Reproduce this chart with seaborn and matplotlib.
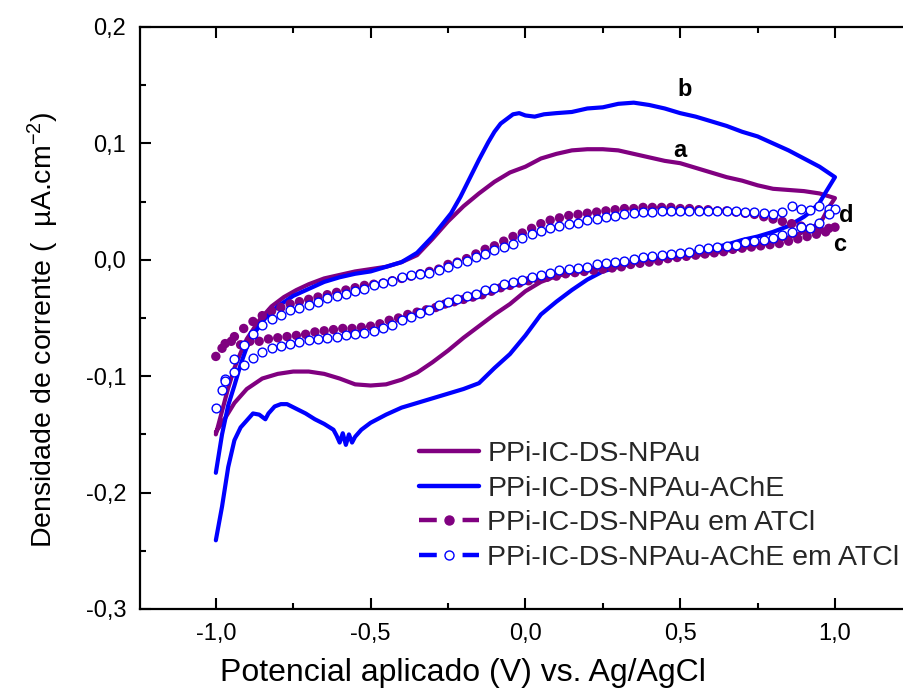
import numpy as np
import pandas as pd
import matplotlib
matplotlib.use("Agg")
import matplotlib.pyplot as plt
from matplotlib.lines import Line2D
from matplotlib.ticker import MultipleLocator, FuncFormatter
import seaborn as sns

# ---------------- data ----------------
# a: PPi-IC-DS-NPAu (solid purple) forward then reverse scan
a_x = [-1.00, -0.98, -0.96, -0.94, -0.92, -0.90, -0.86, -0.82, -0.78, -0.74, -0.70, -0.65, -0.60, -0.55,
       -0.50, -0.45, -0.40, -0.35, -0.30, -0.25, -0.20, -0.15, -0.10, -0.05, 0.00, 0.05, 0.10, 0.15,
       0.20, 0.25, 0.30, 0.35, 0.40, 0.45, 0.50, 0.55, 0.60, 0.65, 0.70, 0.75, 0.80, 0.85, 0.90, 0.95, 1.00,
       0.98, 0.96, 0.93, 0.90, 0.86, 0.82, 0.78, 0.74, 0.70, 0.65, 0.60, 0.55, 0.50, 0.45, 0.40, 0.35,
       0.30, 0.25, 0.20, 0.15, 0.10, 0.05, 0.00, -0.05, -0.10, -0.15, -0.20, -0.25, -0.30, -0.35, -0.40,
       -0.45, -0.50, -0.55, -0.60, -0.65, -0.70, -0.75, -0.80, -0.85, -0.90, -0.94, -0.97, -1.00]
a_y = [-0.150, -0.130, -0.110, -0.093, -0.080, -0.068, -0.052, -0.040, -0.032, -0.026, -0.021, -0.016,
       -0.013, -0.010, -0.008, -0.006, -0.002, 0.004, 0.018, 0.033, 0.046, 0.057, 0.067, 0.075, 0.080,
       0.087, 0.091, 0.094, 0.095, 0.095, 0.094, 0.091, 0.088, 0.085, 0.083, 0.079, 0.075, 0.071, 0.068,
       0.064, 0.061, 0.060, 0.059, 0.057, 0.053,
       0.045, 0.035, 0.028, 0.024, 0.020, 0.017, 0.014, 0.012, 0.010, 0.008, 0.006, 0.004, 0.003, 0.001,
       0.000, -0.003, -0.005, -0.007, -0.009, -0.011, -0.014, -0.019, -0.027, -0.038, -0.047, -0.057,
       -0.067, -0.078, -0.088, -0.097, -0.103, -0.107, -0.108, -0.107, -0.102, -0.098, -0.096, -0.096,
       -0.098, -0.102, -0.111, -0.123, -0.136, -0.148]

# b: PPi-IC-DS-NPAu-AChE (solid blue)
b_x = [-1.00, -0.98, -0.96, -0.94, -0.92, -0.90, -0.87, -0.84, -0.80, -0.75, -0.70, -0.65, -0.60, -0.55,
       -0.50, -0.45, -0.40, -0.35, -0.30, -0.27, -0.24, -0.21, -0.18, -0.15, -0.12, -0.10, -0.08, -0.06,
       -0.04, -0.02, 0.00, 0.03, 0.06, 0.10, 0.15, 0.20, 0.25, 0.30, 0.35, 0.40, 0.45, 0.50, 0.55, 0.60,
       0.65, 0.70, 0.75, 0.80, 0.85, 0.90, 0.95, 1.00,
       0.97, 0.95, 0.92, 0.90, 0.85, 0.80, 0.75, 0.70, 0.65, 0.60, 0.55, 0.50, 0.45, 0.40, 0.35, 0.30,
       0.25, 0.20, 0.15, 0.10, 0.05, 0.00, -0.05, -0.10, -0.15, -0.20, -0.25, -0.30, -0.35, -0.40, -0.45,
       -0.50, -0.53, -0.55, -0.56, -0.57, -0.58, -0.59, -0.60, -0.61, -0.62, -0.65, -0.68, -0.71, -0.74,
       -0.77, -0.79, -0.81, -0.83, -0.84, -0.86, -0.88, -0.90, -0.92, -0.94, -0.96, -0.98, -1.00]
b_y = [-0.183, -0.150, -0.125, -0.108, -0.090, -0.075, -0.061, -0.050, -0.040, -0.031, -0.025, -0.019,
       -0.015, -0.012, -0.010, -0.006, -0.002, 0.006, 0.020, 0.030, 0.040, 0.054, 0.070, 0.086, 0.101,
       0.110, 0.117, 0.121, 0.125, 0.126, 0.124, 0.123, 0.125, 0.126, 0.127, 0.130, 0.131, 0.134, 0.135,
       0.133, 0.130, 0.126, 0.123, 0.119, 0.115, 0.110, 0.106, 0.100, 0.094, 0.087, 0.080, 0.071,
       0.058, 0.049, 0.041, 0.037, 0.029, 0.024, 0.020, 0.017, 0.013, 0.010, 0.007, 0.005, 0.002, 0.000,
       -0.003, -0.006, -0.010, -0.017, -0.026, -0.036, -0.047, -0.065, -0.081, -0.093, -0.106, -0.111,
       -0.115, -0.119, -0.123, -0.127, -0.133, -0.140, -0.146, -0.152, -0.157, -0.150, -0.159, -0.149,
       -0.157, -0.151, -0.146, -0.141, -0.137, -0.132, -0.128, -0.124, -0.124, -0.126, -0.132, -0.137,
       -0.133, -0.132, -0.138, -0.144, -0.155, -0.178, -0.212, -0.241]

# c: PPi-IC-DS-NPAu em ATCl (filled purple circles)
c_x = [-1.00, -0.97, -0.94, -0.91, -0.88, -0.85, -0.82, -0.79, -0.76, -0.73, -0.70, -0.67, -0.64, -0.61,
       -0.58, -0.55, -0.52, -0.49, -0.46, -0.43, -0.40, -0.37, -0.34, -0.31, -0.28, -0.25, -0.22, -0.19,
       -0.16, -0.13, -0.10, -0.07, -0.04, -0.01, 0.02, 0.05, 0.08, 0.11, 0.14, 0.17, 0.20, 0.23, 0.26,
       0.29, 0.32, 0.35, 0.38, 0.41, 0.44, 0.47, 0.50, 0.53, 0.56, 0.59, 0.62, 0.65, 0.68, 0.71, 0.74,
       0.77, 0.80, 0.83, 0.86, 0.89, 0.92, 0.95, 0.98, 1.00,
       0.97, 0.94, 0.91, 0.88, 0.85, 0.82, 0.79, 0.76, 0.73, 0.70, 0.67, 0.64, 0.61, 0.58, 0.55, 0.52,
       0.49, 0.46, 0.43, 0.40, 0.37, 0.34, 0.31, 0.28, 0.25, 0.22, 0.19, 0.16, 0.13, 0.10, 0.07, 0.04,
       0.01, -0.02, -0.05, -0.08, -0.11, -0.14, -0.17, -0.20, -0.23, -0.26, -0.29, -0.32, -0.35, -0.38,
       -0.41, -0.44, -0.47, -0.50, -0.53, -0.56, -0.59, -0.62, -0.65, -0.68, -0.71, -0.74, -0.77, -0.80,
       -0.83, -0.86, -0.89, -0.92, -0.95, -0.98]
c_y = [-0.083, -0.072, -0.066, -0.059, -0.053, -0.048, -0.044, -0.041, -0.038, -0.036, -0.034, -0.032,
       -0.030, -0.028, -0.026, -0.024, -0.022, -0.021, -0.020, -0.018, -0.016, -0.014, -0.012, -0.010,
       -0.008, -0.004, -0.002, 0.001, 0.005, 0.009, 0.012, 0.016, 0.020, 0.023, 0.027, 0.031, 0.034,
       0.036, 0.038, 0.039, 0.040, 0.041, 0.042, 0.043, 0.044, 0.044, 0.045, 0.045, 0.045, 0.045, 0.044,
       0.044, 0.043, 0.043, 0.042, 0.042, 0.041, 0.040, 0.039, 0.037, 0.035, 0.033, 0.031, 0.029, 0.027,
       0.026, 0.027, 0.028,
       0.024, 0.022, 0.020, 0.018, 0.016, 0.014, 0.013, 0.012, 0.011, 0.010, 0.009, 0.007, 0.006, 0.005,
       0.004, 0.003, 0.002, 0.001, -0.001, -0.002, -0.003, -0.004, -0.006, -0.007, -0.008, -0.009,
       -0.010, -0.011, -0.012, -0.014, -0.015, -0.017, -0.018, -0.020, -0.022, -0.024, -0.027, -0.030,
       -0.032, -0.034, -0.036, -0.038, -0.041, -0.043, -0.045, -0.047, -0.050, -0.052, -0.055, -0.057,
       -0.058, -0.059, -0.059, -0.060, -0.061, -0.062, -0.064, -0.065, -0.066, -0.067, -0.068, -0.070,
       -0.070, -0.073, -0.070, -0.076]

# d: PPi-IC-DS-NPAu-AChE em ATCl (open blue circles)
d_x = [-1.00, -0.98, -0.97, -0.94, -0.91, -0.88, -0.85, -0.82, -0.79, -0.76, -0.73, -0.70, -0.67, -0.64,
       -0.61, -0.58, -0.55, -0.52, -0.49, -0.46, -0.43, -0.40, -0.37, -0.34, -0.31, -0.28, -0.25, -0.22,
       -0.19, -0.16, -0.13, -0.10, -0.07, -0.04, -0.01, 0.02, 0.05, 0.08, 0.11, 0.14, 0.17, 0.20, 0.23,
       0.26, 0.29, 0.32, 0.35, 0.38, 0.41, 0.44, 0.47, 0.50, 0.53, 0.56, 0.59, 0.62, 0.65, 0.68, 0.71,
       0.74, 0.77, 0.80, 0.83, 0.86, 0.89, 0.92, 0.95, 0.98, 1.00,
       0.98, 0.95, 0.92, 0.89, 0.86, 0.83, 0.80, 0.77, 0.74, 0.71, 0.68, 0.65, 0.62, 0.59, 0.56, 0.53,
       0.50, 0.47, 0.44, 0.41, 0.38, 0.35, 0.32, 0.29, 0.26, 0.23, 0.20, 0.17, 0.14, 0.11, 0.08, 0.05,
       0.02, -0.01, -0.04, -0.07, -0.10, -0.13, -0.16, -0.19, -0.22, -0.25, -0.28, -0.31, -0.34, -0.37,
       -0.40, -0.43, -0.46, -0.49, -0.52, -0.55, -0.58, -0.61, -0.64, -0.67, -0.70, -0.73, -0.76, -0.79,
       -0.82, -0.85, -0.88, -0.91, -0.94, -0.97]
d_y = [-0.127, -0.112, -0.102, -0.085, -0.073, -0.064, -0.056, -0.051, -0.047, -0.043, -0.041, -0.039,
       -0.036, -0.033, -0.031, -0.029, -0.027, -0.025, -0.022, -0.020, -0.018, -0.015, -0.013, -0.012,
       -0.011, -0.009, -0.006, -0.003, -0.001, 0.002, 0.005, 0.008, 0.011, 0.014, 0.019, 0.022, 0.025,
       0.027, 0.029, 0.031, 0.032, 0.034, 0.035, 0.037, 0.038, 0.039, 0.040, 0.041, 0.041, 0.042, 0.042,
       0.042, 0.042, 0.042, 0.042, 0.042, 0.042, 0.042, 0.041, 0.041, 0.040, 0.039, 0.041, 0.046, 0.044,
       0.043, 0.046, 0.044, 0.044,
       0.039, 0.032, 0.027, 0.028, 0.024, 0.021, 0.019, 0.017, 0.016, 0.015, 0.013, 0.012, 0.011, 0.010,
       0.009, 0.007, 0.006, 0.005, 0.004, 0.003, 0.002, 0.001, -0.001, -0.002, -0.003, -0.004, -0.006,
       -0.007, -0.008, -0.009, -0.011, -0.013, -0.015, -0.017, -0.019, -0.021, -0.024, -0.026, -0.029,
       -0.031, -0.034, -0.036, -0.039, -0.043, -0.046, -0.049, -0.052, -0.056, -0.059, -0.061, -0.063,
       -0.064, -0.065, -0.066, -0.067, -0.068, -0.069, -0.071, -0.072, -0.074, -0.076, -0.079, -0.084,
       -0.090, -0.096, -0.104]

labels = ["PPi-IC-DS-NPAu", "PPi-IC-DS-NPAu-AChE",
          "PPi-IC-DS-NPAu em ATCl", "PPi-IC-DS-NPAu-AChE em ATCl"]
curve_letters = ["a", "b", "c", "d"]
letter_pos = [(0.50, 0.094), (0.515, 0.146), (1.016, 0.013), (1.035, 0.038)]
x_ticks = [-1.0, -0.5, 0.0, 0.5, 1.0]
y_ticks = [-0.3, -0.2, -0.1, 0.0, 0.1, 0.2]

PURPLE = "#800080"
BLUE = "#0000FF"

# ---------------- style ----------------
sns.set_theme(style="ticks")
plt.rcParams["font.family"] = ["Liberation Sans", "DejaVu Sans"]
plt.rcParams["mathtext.fontset"] = "custom"
plt.rcParams["mathtext.rm"] = "Liberation Sans"
plt.rcParams["mathtext.it"] = "Liberation Sans:italic"
plt.rcParams["mathtext.bf"] = "Liberation Sans:bold"

fig = plt.figure(figsize=(9.04, 6.95), dpi=100)
ax = fig.add_axes([140 / 904, 86 / 695, 764 / 904, 582 / 695])

df_a = pd.DataFrame({"x": a_x, "y": a_y})
df_b = pd.DataFrame({"x": b_x, "y": b_y})
df_c = pd.DataFrame({"x": c_x, "y": c_y})
df_d = pd.DataFrame({"x": d_x, "y": d_y})

sns.lineplot(data=df_a, x="x", y="y", sort=False, estimator=None, color=PURPLE, lw=3.0, ax=ax)
sns.lineplot(data=df_b, x="x", y="y", sort=False, estimator=None, color=BLUE, lw=3.0, ax=ax)
sns.scatterplot(data=df_c, x="x", y="y", color=PURPLE, s=46, edgecolor="none", ax=ax, zorder=3)
sns.scatterplot(data=df_d, x="x", y="y", facecolor="white", edgecolor=BLUE, linewidth=1.0,
                s=40, ax=ax, zorder=4)

ax.set_xlim(-1.245, 1.223)
ax.set_ylim(-0.3, 0.2)

fmt = FuncFormatter(lambda v, p: ("%.1f" % (0.0 if abs(v) < 1e-9 else v)).replace(".", ","))
ax.set_xticks(x_ticks)
ax.set_yticks(y_ticks)
ax.xaxis.set_major_formatter(fmt)
ax.yaxis.set_major_formatter(fmt)
ax.xaxis.set_minor_locator(MultipleLocator(0.25))
ax.yaxis.set_minor_locator(MultipleLocator(0.05))
ax.tick_params(which="both", direction="in", width=1.5, color="black", labelsize=17,
               top=True, right=False, labelcolor="black")
ax.tick_params(which="major", length=8, pad=10)
ax.tick_params(which="minor", length=4.5)

for s in ["left", "bottom", "top"]:
    ax.spines[s].set_linewidth(1.6)
    ax.spines[s].set_color("black")
ax.spines["right"].set_visible(False)

ax.set_xlabel("Potencial aplicado (V) vs. Ag/AgCl", fontsize=23, color="black")
ax.set_ylabel("Densidade de corrente (  µA.cm$^{-2}$)", fontsize=20.5, color="black")
ax.xaxis.set_label_coords(0.423, -0.084)
ax.yaxis.set_label_coords(-0.103, 0.479)

for letter, (lx, ly) in zip(curve_letters, letter_pos):
    ax.text(lx, ly, letter, fontsize=17, fontweight="bold", ha="center", va="center", color="black")

handles = [
    Line2D([], [], color=PURPLE, lw=3.2),
    Line2D([], [], color=BLUE, lw=3.2),
    Line2D([], [], color=PURPLE, lw=3.2, ls=(0, (4.0, 5.8)), marker="o", markersize=6.5,
           markerfacecolor=PURPLE, markeredgecolor=PURPLE),
    Line2D([], [], color=BLUE, lw=3.2, ls=(0, (4.0, 5.8)), marker="o", markersize=6.5,
           markerfacecolor="white", markeredgecolor=BLUE, markeredgewidth=1.0),
]
leg = ax.legend(handles, labels, loc="upper left", bbox_to_anchor=(419 / 904, 1 - 441 / 695),
                bbox_transform=fig.transFigure, frameon=False, fontsize=20.5, handlelength=2.1,
                handletextpad=0.3, labelspacing=0.3, borderaxespad=0, borderpad=0)

fig.savefig("out.png", dpi=100)
